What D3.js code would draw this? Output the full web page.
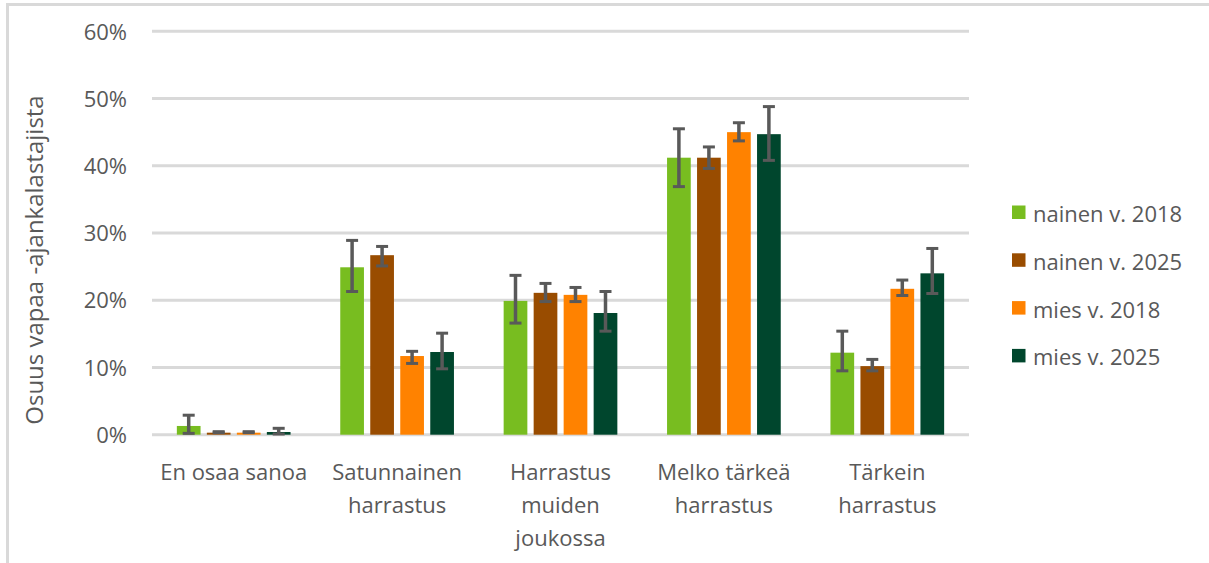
<!DOCTYPE html>
<html><head><meta charset="utf-8">
<script src="https://cdn.jsdelivr.net/npm/d3@7"></script>
<style>body{margin:0;background:#fff}svg{display:block}text{font-family:"Open Sans",sans-serif;fill:#595959}</style>
</head><body><svg id="c" width="1209" height="563"></svg>
<script>
const categories = ["En osaa sanoa","Satunnainen harrastus","Harrastus muiden joukossa","Melko tärkeä harrastus","Tärkein harrastus"];
const categoryLines = [["En osaa sanoa"],["Satunnainen","harrastus"],["Harrastus","muiden","joukossa"],["Melko tärkeä","harrastus"],["Tärkein","harrastus"]];
const seriesNames = ["nainen v. 2018","nainen v. 2025","mies v. 2018","mies v. 2025"];
const seriesColors = ["#78bd20","#994c00","#ff8200","#00462d"];
// values in % per series, one per category
const nainen2018 = [1.3, 24.9, 19.9, 41.2, 12.2];
const nainen2025 = [0.3, 26.7, 21.1, 41.2, 10.2];
const mies2018   = [0.3, 11.7, 20.8, 45.0, 21.7];
const mies2025   = [0.4, 12.3, 18.1, 44.7, 24.0];
// error bar lows / highs
const nainen2018Lo = [0.2, 21.3, 16.6, 36.9, 9.5];
const nainen2018Hi = [2.9, 28.9, 23.7, 45.5, 15.4];
const nainen2025Lo = [0.3, 25.1, 19.8, 39.6, 9.5];
const nainen2025Hi = [0.45, 28.0, 22.5, 42.8, 11.2];
const mies2018Lo   = [0.3, 10.6, 19.8, 43.7, 20.7];
const mies2018Hi   = [0.45, 12.4, 21.9, 46.4, 23.0];
const mies2025Lo   = [0.1, 9.8, 15.4, 40.8, 21.0];
const mies2025Hi   = [0.95, 15.1, 21.3, 48.8, 27.7];
const yTicks = [0,10,20,30,40,50,60];

const values = [nainen2018, nainen2025, mies2018, mies2025];
const lows = [nainen2018Lo, nainen2025Lo, mies2018Lo, mies2025Lo];
const highs = [nainen2018Hi, nainen2025Hi, mies2018Hi, mies2025Hi];

const svg = d3.select("#c");
svg.append("rect").attr("x",7.5).attr("y",4.5).attr("width",1220).attr("height",580)
  .attr("fill","none").attr("stroke","#d9d9d9").attr("stroke-width",3);

const x0 = d3.scaleBand().domain(categories).range([152,969]).padding(0);
const groupW = 113.7;
const off = (x0.bandwidth()-groupW)/2;
const x1 = d3.scaleBand().domain(seriesNames).range([off, off+groupW]).paddingInner(0.21).paddingOuter(0);
const y = d3.scaleLinear().domain([0,60]).range([434.7,31.3]);

// gridlines
svg.append("g").selectAll("line").data(yTicks).join("line")
  .attr("x1",152).attr("x2",969).attr("y1",d=>y(d)).attr("y2",d=>y(d))
  .attr("stroke","#d9d9d9").attr("stroke-width",3);

// y axis labels
const yAxis = d3.axisLeft(y).tickValues(yTicks).tickFormat(d=>d+"%").tickSize(0).tickPadding(0);
const ya = svg.append("g").attr("transform","translate(127,0)").call(yAxis);
ya.select(".domain").remove();
ya.selectAll("text").attr("font-size",22).attr("fill","#595959").style("font-family","'Open Sans',sans-serif").attr("dy","0.35em");

// bars
const data = [];
seriesNames.forEach((s,i)=>categories.forEach((c,j)=>data.push({s,c,i,v:values[i][j],lo:lows[i][j],hi:highs[i][j]})));
svg.append("g").selectAll("rect").data(data).join("rect")
  .attr("x",d=>x0(d.c)+x1(d.s)).attr("width",x1.bandwidth())
  .attr("y",d=>y(d.v)).attr("height",d=>y(0)-y(d.v))
  .attr("fill",d=>seriesColors[d.i]);

// error bars
const eb = svg.append("g").attr("stroke","#595959").attr("stroke-width",3.5);
data.forEach(d=>{
  const cx = x0(d.c)+x1(d.s)+x1.bandwidth()/2;
  eb.append("line").attr("x1",cx).attr("x2",cx).attr("y1",y(d.hi)).attr("y2",y(d.lo));
  [d.lo,d.hi].forEach(v=>eb.append("line").attr("x1",cx-6).attr("x2",cx+6).attr("y1",y(v)).attr("y2",y(v)).attr("stroke-width",3));
});

// x labels
categoryLines.forEach((lines,j)=>{
  const t = svg.append("text").attr("text-anchor","middle").attr("font-size",22)
    .attr("x",x0(categories[j])+x0.bandwidth()/2).attr("y",480);
  lines.forEach((l,k)=>t.append("tspan").attr("x",x0(categories[j])+x0.bandwidth()/2).attr("y",480+k*33).text(l));
});

// y title
svg.append("text").attr("transform","translate(43,260) rotate(-90)").attr("text-anchor","middle")
  .attr("font-size",24).text("Osuus vapaa -ajankalastajista");

// legend
const lg = svg.append("g");
seriesNames.forEach((s,i)=>{
  const by = 222 + i*47.8;
  lg.append("rect").attr("x",1012).attr("y",by-16.5).attr("width",13.5).attr("height",13.5).attr("fill",seriesColors[i]);
  lg.append("text").attr("x",1033).attr("y",by).attr("font-size",22).text(s);
});
</script></body></html>
